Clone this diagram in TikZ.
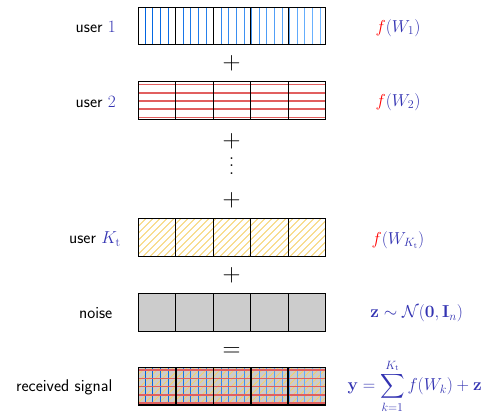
\documentclass[tikz,border=0pt]{standalone}
\usepackage{amsmath,amssymb}
\definecolor{sb}{rgb}{0.2,0.2,0.7}
\definecolor{bdark}{RGB}{0,100,225}
\definecolor{blight}{RGB}{110,180,255}
\definecolor{redl}{RGB}{225,95,95}
\definecolor{yell}{RGB}{245,208,105}
\definecolor{noisegray}{RGB}{204,204,204}
\newcommand\bxl{138.5}
\newcommand\bxr{325.5}
\newcommand\myframe[2]{%
  \draw[line width=#2] (\bxl,#1) rectangle (\bxr,#1+37.5);
  \foreach \i in {1,...,4} \draw[line width=#2] (\bxl+37.4*\i,#1) -- ++(0,37.5);}
\newcommand\myblue[1]{%
  \foreach \k in {0,...,23}{%
    \pgfmathsetmacro\xx{145.3+7.6*\k}%
    \pgfmathsetmacro\pp{100-\k*100/23}%
    \draw[line width=1.1pt, bdark!\pp!blight] (\xx,#1) -- ++(0,37.5);}}
\newcommand\myred[1]{%
  \foreach \o in {2.6,10.9,19.1,27.3,35.6}
    \draw[line width=1.6pt, redl] (\bxl,#1+\o) -- (\bxr,#1+\o);}
\newcommand\myyellow[1]{%
  \begin{scope}
    \clip (\bxl,#1) rectangle (\bxr,#1+37.5);
    \foreach \c in {0,...,33}
      \draw[line width=0.9pt, yell] (\bxl-37.5+7*\c,#1+37.5) -- ++(37.5,-37.5);
  \end{scope}}
\newcommand\myvd{\vbox{\baselineskip7.5pt\lineskiplimit-10pt\hbox{.}\hbox{.}\hbox{.}}}
\begin{document}
\begin{tikzpicture}[x=1pt,y=-1pt,
  lab/.style={font=\fontsize{17}{20}\selectfont\sffamily, inner sep=0pt, anchor=east},
  mth/.style={font=\fontsize{17}{20}\selectfont, text=sb, inner sep=0pt},
  op/.style={font=\fontsize{24.5}{28}\selectfont, inner sep=0pt}]
\useasboundingbox (0,0) rectangle (491,412);
% user 1
\myblue{7.5}
\myframe{7.5}{1pt}
% user 2
\myred{82}
\myframe{82}{1pt}
% user K_t
\myyellow{219}
\myframe{219}{1pt}
% noise
\fill[noisegray] (\bxl,293.5) rectangle (\bxr,331);
\myframe{293.5}{1pt}
% received
\fill[noisegray] (\bxl,367.5) rectangle (\bxr,405);
\myyellow{367.5}
\myblue{367.5}
\myred{367.5}
\myframe{367.5}{1.6pt}
% left labels
\node[lab] (l1) at (116,27) {user \textcolor{sb}{$1$}};
\node[lab] (l2) at (116,101.5) {user \textcolor{sb}{$2$}};
\node[lab] (l3) at (121,239) {user \textcolor{sb}{$K_\mathrm{t}$}};
\node[lab] (l4) at (112.5,313) {noise};
\node[lab] (l5) at (112.5,387) {received signal};
% operators
\node[op] (o1) at (231.7,63.3) {$+$};
\node[op] (o2) at (231.7,141) {$+$};
\node[font=\fontsize{22}{24}\selectfont, inner sep=0pt] (o3) at (231.7,166) {\myvd};
\node[op] (o4) at (231.7,200.7) {$+$};
\node[op] (o5) at (231.7,275) {$+$};
\node[op] (o6) at (231.7,351.7) {$=$};
% right labels
\node[mth] (r1) at (398,28) {$\textcolor{red}{f}(W_1)$};
\node[mth] (r2) at (398,101.7) {$\textcolor{red}{f}(W_2)$};
\node[mth] (r3) at (398,240) {$\textcolor{red}{f}(W_{K_\mathrm{t}})$};
\node[mth] (r4) at (416.7,313.3) {$\mathbf{z}\sim\mathcal{N}(\mathbf{0},\mathbf{I}_n)$};
\node[mth, anchor=west] (r5) at (347.3,386) {$\displaystyle \mathbf{y}=\sum_{k=1}^{K_\mathrm{t}} f(W_k)+\mathbf{z}$};
\end{tikzpicture}
\end{document}
